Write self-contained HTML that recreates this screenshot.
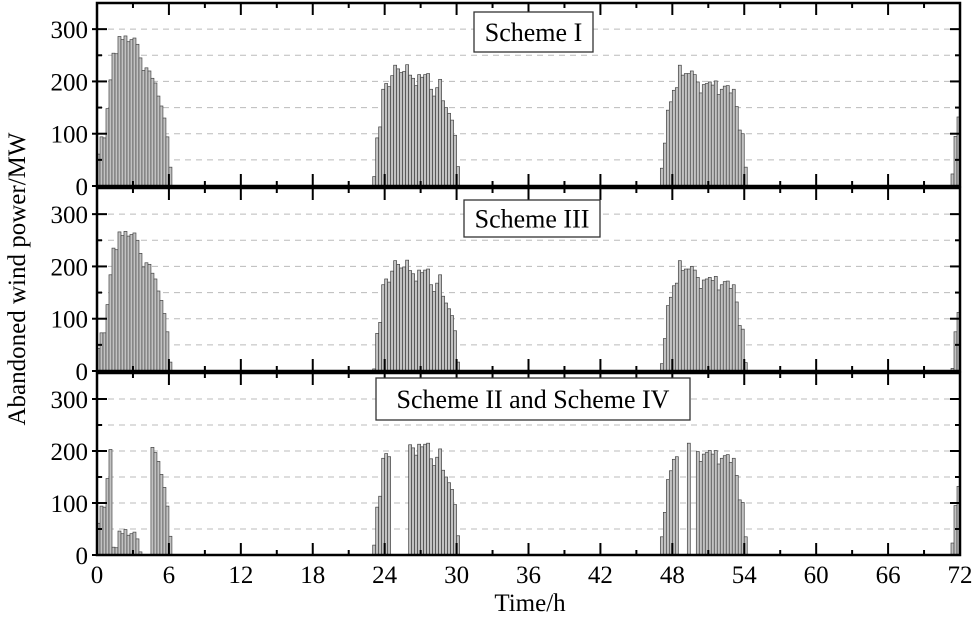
<!DOCTYPE html>
<html><head><meta charset="utf-8"><style>
body{margin:0;background:#fff}
svg{display:block}
text{font-family:"Liberation Serif",serif;fill:#000}
</style></head><body>
<svg id="chart" width="975" height="617" viewBox="0 0 975 617" xmlns="http://www.w3.org/2000/svg">
<g id="root"></g>
</svg>
<script>
// ---- data (15-min resolution, index = quarter-hour) ----
const xTicks = [0,6,12,18,24,30,36,42,48,54,60,66,72];
const yTicks = [0,100,200,300];
const panelTitles = ["Scheme I","Scheme III","Scheme II and Scheme IV"];

const s1Starts = [0,92,188,285];
const s1Vals = [
 [61,94,92,148,203,254,253,286,280,287,276,280,283,271,245,221,226,220,206,197,172,153,130,94,36],
 [18,92,113,185,196,190,211,231,224,217,219,232,212,206,192,213,208,213,215,185,172,188,204,163,150,139,126,97,37],
 [34,82,145,161,183,188,231,212,215,215,220,213,199,178,194,196,199,193,201,175,185,191,192,178,185,152,107,100,36],
 [23,95,132]
];
const s2Starts = [0,92,188,285];
const s2Vals = [
 [43,73,73,127,184,235,232,266,259,267,258,261,264,250,225,199,207,204,187,176,153,135,110,75,17],
 [4,72,93,165,176,170,191,211,204,197,199,212,192,186,172,193,188,193,195,165,152,168,184,143,130,119,106,77,17],
 [14,62,125,141,163,168,211,192,195,195,200,193,179,158,174,176,179,173,181,155,165,171,172,158,165,132,87,80,16],
 [5,75,112]
];
const s3Starts = [0,92,104,188,197,200,285];
const s3Vals = [
 [61,94,92,147,203,15,14,46,41,49,38,41,44,31,6,1,0,0,207,197,180,155,130,94,36],
 [19,92,113,186,195,189],
 [212,206,192,213,208,213,215,185,172,188,204,163,150,139,126,97,37],
 [35,82,145,162,184,189],
 [215],
 [199,180,194,197,201,194,201,175,186,191,193,178,186,153,106,101,35],
 [23,95,132]
];

// ---- layout ----
const NS="http://www.w3.org/2000/svg";
const root=document.getElementById('root');
const X0=97, X1=960, XMAX=72, YMAX=350;
const panels=[
 {top:3,bottom:186,starts:s1Starts,vals:s1Vals,box:[474,12,119,40]},
 {top:188,bottom:371,starts:s2Starts,vals:s2Vals,box:[464,200,136,37]},
 {top:373,bottom:555,starts:s3Starts,vals:s3Vals,box:[376,378,314,42]}
];
const xs=h=>X0+(X1-X0)*h/XMAX;
function mk(tag,attrs,parent){const e=document.createElementNS(NS,tag);for(const k in attrs)e.setAttribute(k,attrs[k]);(parent||root).appendChild(e);return e;}

panels.forEach((p,pi)=>{
 const g=mk('g',{});
 
 
 const ys=v=>p.bottom-(p.bottom-p.top)*v/YMAX;
 for(let v=50;v<=300;v+=50){
  const l=mk('line',{x1:X0,x2:X1,y1:ys(v),y2:ys(v),stroke:'#bbb','stroke-width':1,'stroke-dasharray':'6,5'},g);
  
  
 }
 const bw=(X1-X0)/(XMAX*4);
 p.starts.forEach((st,si)=>{
  p.vals[si].forEach((v,k)=>{
   if(v<=0)return;
   const i=st+k;
   const r=mk('rect',{x:xs(i/4),y:ys(v),width:bw,height:p.bottom-ys(v),fill:'#c2c2c2',stroke:'#444','stroke-width':0.7},g);
   
   
  });
 });
 const f=mk('rect',{x:X0,y:p.top,width:X1-X0,height:p.bottom-p.top,fill:'none',stroke:'#000','stroke-width':2.5},g);
 
 
 for(let v=0;v<=300;v+=50){
  const major=v%100===0, len=major?10:5, y=ys(v);
  mk('line',{x1:X0,x2:X0+len,y1:y,y2:y,stroke:'#000','stroke-width':2},g);
  mk('line',{x1:X1,x2:X1-len,y1:y,y2:y,stroke:'#000','stroke-width':2},g);
  if(major){
   mk('line',{x1:X0-5,x2:X0,y1:y,y2:y,stroke:'#000','stroke-width':2},g);
   const t=mk('text',{x:X0-9,y:y+9,'text-anchor':'end','font-size':25},g);
   t.textContent=yTicks[v/100];
   
   
  }
 }
 for(let h=3;h<XMAX;h+=3){
  const len=h%6===0?12:5, x=xs(h);
  mk('line',{x1:x,x2:x,y1:p.bottom,y2:p.bottom-len,stroke:'#000','stroke-width':2},g);
  mk('line',{x1:x,x2:x,y1:p.top,y2:p.top+len,stroke:'#000','stroke-width':2},g);
 }
 const b=p.box;
 const br=mk('rect',{x:b[0],y:b[1],width:b[2],height:b[3],fill:'#fff',stroke:'#333','stroke-width':1.3},g);
 
 
 const tt=mk('text',{x:b[0]+b[2]/2,y:b[1]+b[3]/2+9,'text-anchor':'middle','font-size':26},g);
 tt.textContent=panelTitles[pi];
 
 
});
xTicks.forEach(h=>{
 const t=mk('text',{x:xs(h),y:583,'text-anchor':'middle','font-size':25});
 t.textContent=h;
 
 
});
const xt=mk('text',{x:530,y:611,'text-anchor':'middle','font-size':25});
xt.textContent='Time/h';


const yt=mk('text',{x:0,y:0,'text-anchor':'middle','font-size':25,transform:'translate(25,279) rotate(-90)'});
yt.textContent='Abandoned wind power/MW';


</script>
</body></html>
